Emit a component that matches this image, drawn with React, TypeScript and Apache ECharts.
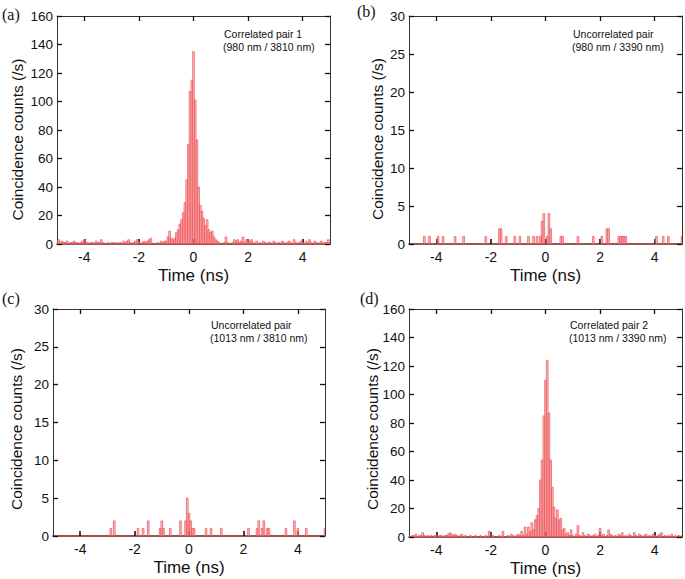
import React, { useEffect, useRef } from "react";
import * as echarts from "echarts";

// Histogram bin width (ns); bins centred on multiples of BIN
const BIN = 0.0625;
const X_TICK_VALUES = [-4, -2, 0, 2, 4];
const Y_TICKS_CORRELATED = [0, 20, 40, 60, 80, 100, 120, 140, 160];
const Y_TICKS_UNCORRELATED = [0, 5, 10, 15, 20, 25, 30];

// Panel (a): counts per bin, bins k = -80 .. 80 (t = k * BIN)
const countsA = [
  1, 3, 1, 2, 1, 1, 2, 0, 1, 1, 2, 1, 1, 0, 1, 2, 3, 1, 1, 0,
  1, 1, 0, 2, 1, 1, 3, 1, 0, 0, 1, 0, 1, 1, 0, 1, 0, 1, 0, 2,
  1, 2, 3, 1, 0, 1, 2, 3, 1, 0, 1, 2, 1, 2, 3, 4, 0, 0, 0, 1,
  0, 2, 1, 2, 2, 5, 9, 4, 3, 4, 8, 10, 14, 17, 22, 29, 45, 70, 107, 115,
  135,
  101, 73, 40, 27, 23, 18, 13, 17, 10, 8, 9, 5, 3, 2, 1, 0, 0, 1, 5, 1,
  0, 0, 1, 3, 2, 3, 1, 2, 5, 1, 3, 3, 2, 3, 1, 0, 2, 0, 1, 0,
  2, 1, 0, 1, 1, 0, 2, 1, 0, 1, 0, 2, 1, 0, 1, 2, 1, 0, 3, 1,
  0, 1, 2, 1, 0, 2, 1, 3, 1, 0, 2, 1, 0, 1, 2, 0, 1, 1, 3, 1,
];

// Panel (d): counts per bin, bins k = -80 .. 80
const countsD = [
  1, 0, 1, 1, 2, 0, 1, 1, 3, 1, 0, 1, 0, 1, 0, 1, 1, 0, 1, 1,
  0, 1, 1, 2, 3, 2, 1, 2, 1, 0, 1, 2, 0, 1, 0, 0, 1, 0, 0, 1,
  0, 0, 1, 0, 0, 1, 0, 4, 0, 1, 0, 0, 0, 1, 0, 4, 0, 0, 1, 0,
  2, 1, 0, 1, 2, 1, 4, 1, 7, 2, 7, 4, 10, 5, 12, 15, 20, 40, 54, 85,
  110,
  124, 87, 54, 35, 21, 13, 19, 12, 13, 5, 6, 2, 3, 1, 5, 1, 0, 2, 8, 1,
  0, 3, 1, 0, 2, 1, 0, 1, 2, 0, 1, 6, 1, 2, 0, 1, 5, 2, 1, 0,
  1, 0, 2, 1, 3, 0, 1, 0, 2, 1, 0, 3, 1, 0, 2, 1, 0, 1, 2, 0,
  1, 0, 2, 1, 0, 1, 2, 3, 0, 1, 0, 1, 0, 2, 0, 1, 0, 1, 0, 1,
];

// Panel (b): non-empty bins only
const timesB = [
  -4.4375, -4.25, -3.9375, -3.75, -3.3125, -3.0, -2.1875, -1.6875, -1.625, -1.4375,
  -1.125, -0.9375, -0.625, -0.4375, -0.3125, -0.1875, -0.125, -0.0625, 0.0625, 0.125,
  0.1875, 0.5625, 0.625, 1.1875, 1.75, 2.0625, 2.25, 2.3125, 2.6875, 2.75,
  2.8125, 2.875, 2.9375, 4.0625, 4.3125, 4.5, 5.0,
];
const countsB = [
  1, 1, 1, 1, 1, 1, 1, 2, 2, 1,
  1, 1, 1, 1, 1, 1, 3, 4, 1, 4,
  2, 1, 1, 1, 1, 1, 2, 2, 1, 1,
  1, 1, 1, 1, 1, 1, 1,
];

// Panel (c): non-empty bins only
const timesC = [
  -2.875, -2.75, -1.875, -1.6875, -1.5, -1.0625, -1.0, -0.9375, -0.6875, -0.3125,
  -0.125, -0.0625, 0.0, 0.0625, 0.125, 0.1875, 0.625, 0.8125, 1.1875, 2.1875,
  2.5, 2.5625, 2.6875, 2.75, 2.875, 2.9375, 3.5625, 3.875, 4.0, 4.3125, 5.0,
];
const countsC = [
  1, 2, 1, 1, 2, 1, 2, 1, 1, 2,
  2, 5, 3, 2, 1, 1, 1, 1, 1, 1,
  1, 2, 1, 2, 1, 1, 1, 2, 1, 1, 1,
];

const panelLetters = ["(a)", "(b)", "(c)", "(d)"];
const annotationLine1 = ["Correlated pair 1", "Uncorrelated pair", "Uncorrelated pair", "Correlated pair 2"];
const annotationLine2 = ["(980 nm / 3810 nm)", "(980 nm / 3390 nm)", "(1013 nm / 3810 nm)", "(1013 nm / 3390 nm)"];
const xAxisTitle = "Time (ns)";
const yAxisTitle = "Coincidence counts (/s)";

const SANS = "'Liberation Sans', Arial, Helvetica, sans-serif";
const SERIF = "'Liberation Serif', 'Times New Roman', Times, serif";

const denseToPairs = (counts: number[]) => counts.map((c, i) => [(i - 80) * BIN, c]);
const sparseToPairs = (times: number[], counts: number[]) => times.map((t, i) => [t, counts[i]]);

const panels = [
  { data: denseToPairs(countsA), yTicks: Y_TICKS_CORRELATED, grid: { left: 57, top: 16, width: 273, height: 228 }, yTitle: [17, 139.5], letter: [2, 14], ann: [224, 34] },
  { data: sparseToPairs(timesB, countsB), yTicks: Y_TICKS_UNCORRELATED, grid: { left: 409, top: 16, width: 273, height: 228 }, yTitle: [377.5, 139], letter: [357, 11], ann: [573, 34] },
  { data: sparseToPairs(timesC, countsC), yTicks: Y_TICKS_UNCORRELATED, grid: { left: 53, top: 309, width: 272, height: 227 }, yTitle: [16, 429], letter: [2, 298], ann: [211, 325] },
  { data: denseToPairs(countsD), yTicks: Y_TICKS_CORRELATED, grid: { left: 409, top: 309, width: 273, height: 228 }, yTitle: [372.5, 429], letter: [360, 298], ann: [570, 325] },
];

export default function App() {
  const ref = useRef<HTMLDivElement>(null);
  useEffect(() => {
    if (!ref.current) return;
    const chart = echarts.init(ref.current, undefined, { renderer: "svg" });
    const grids: any[] = [];
    const xAxes: any[] = [];
    const yAxes: any[] = [];
    const series: any[] = [];
    const graphics: any[] = [];

    panels.forEach((p, i) => {
      grids.push({ ...p.grid, containLabel: false });
      const yMax = p.yTicks[p.yTicks.length - 1];
      const yInt = p.yTicks[1] - p.yTicks[0];
      xAxes.push({
        gridIndex: i, type: "value", min: -5, max: 5, position: "bottom",
        axisLine: { onZero: false, lineStyle: { color: "#7a1c1c", width: 1.6 } },
        axisTick: { inside: true, length: 5, customValues: X_TICK_VALUES, lineStyle: { color: "#111", width: 1.6 } },
        axisLabel: { customValues: X_TICK_VALUES, fontSize: 14, color: "#111", margin: 6, fontFamily: SANS },
        splitLine: { show: false },
        name: xAxisTitle, nameLocation: "middle", nameGap: 23,
        nameTextStyle: { fontSize: 17, color: "#111", fontFamily: SANS },
      });
      xAxes.push({
        gridIndex: i, type: "value", min: -5, max: 5, position: "top",
        axisLine: { onZero: false, lineStyle: { color: "#333", width: 1 } },
        axisTick: { inside: true, length: 5, customValues: X_TICK_VALUES, lineStyle: { color: "#111", width: 1.3 } },
        axisLabel: { show: false }, splitLine: { show: false },
      });
      yAxes.push({
        gridIndex: i, type: "value", min: 0, max: yMax, interval: yInt, position: "left",
        axisLine: { show: true, onZero: false, lineStyle: { color: "#333", width: 1 } },
        axisTick: { show: true, inside: true, length: 5, lineStyle: { color: "#111", width: 1.3 } },
        axisLabel: { fontSize: 13.5, color: "#111", margin: 4, fontFamily: SANS },
        splitLine: { show: false },
      });
      yAxes.push({
        gridIndex: i, type: "value", min: 0, max: yMax, interval: yInt, position: "right",
        axisLine: { show: true, onZero: false, lineStyle: { color: "#333", width: 1 } },
        axisTick: { show: true, inside: true, length: 5, lineStyle: { color: "#111", width: 1.3 } },
        axisLabel: { show: false }, splitLine: { show: false },
      });
      series.push({
        type: "custom",
        xAxisIndex: 2 * i,
        yAxisIndex: 2 * i,
        clip: true,
        data: p.data,
        encode: { x: 0, y: 1 },
        renderItem: (_params: any, api: any) => {
          const t = api.value(0) as number;
          const c = api.value(1) as number;
          if (!c) return null;
          const a = api.coord([t - BIN / 2, c]);
          const b = api.coord([t + BIN / 2, 0]);
          return {
            type: "rect",
            shape: { x: a[0], y: a[1], width: b[0] - a[0], height: b[1] - a[1] },
            style: { fill: "rgba(250,140,140,0.55)", stroke: "#ec5257", lineWidth: 0.7 },
          };
        },
      });
      graphics.push({
        type: "text", x: p.yTitle[0], y: p.yTitle[1], rotation: Math.PI / 2,
        style: { text: yAxisTitle, fontSize: 15.5, fontFamily: SANS, fill: "#111", align: "center", verticalAlign: "middle" },
      });
      graphics.push({
        type: "text", x: p.letter[0], y: p.letter[1],
        style: { text: panelLetters[i], fontSize: 16, fontFamily: SERIF, fill: "#111", align: "left", verticalAlign: "middle" },
      });
      graphics.push({
        type: "text", x: p.ann[0], y: p.ann[1],
        style: { text: annotationLine1[i], fontSize: 10.5, fontFamily: SANS, fill: "#111", align: "left", verticalAlign: "middle" },
      });
      graphics.push({
        type: "text", x: p.ann[0] - 1, y: p.ann[1] + 13,
        style: { text: annotationLine2[i], fontSize: 10.5, fontFamily: SANS, fill: "#111", align: "left", verticalAlign: "middle" },
      });
    });

    chart.setOption({
      animation: false,
      backgroundColor: "#ffffff",
      grid: grids,
      xAxis: xAxes,
      yAxis: yAxes,
      series,
      graphic: graphics,
    });
    return () => chart.dispose();
  }, []);
  return <div ref={ref} style={{ position: "absolute", left: 0, top: 0, width: 685, height: 579 }} />;
}
